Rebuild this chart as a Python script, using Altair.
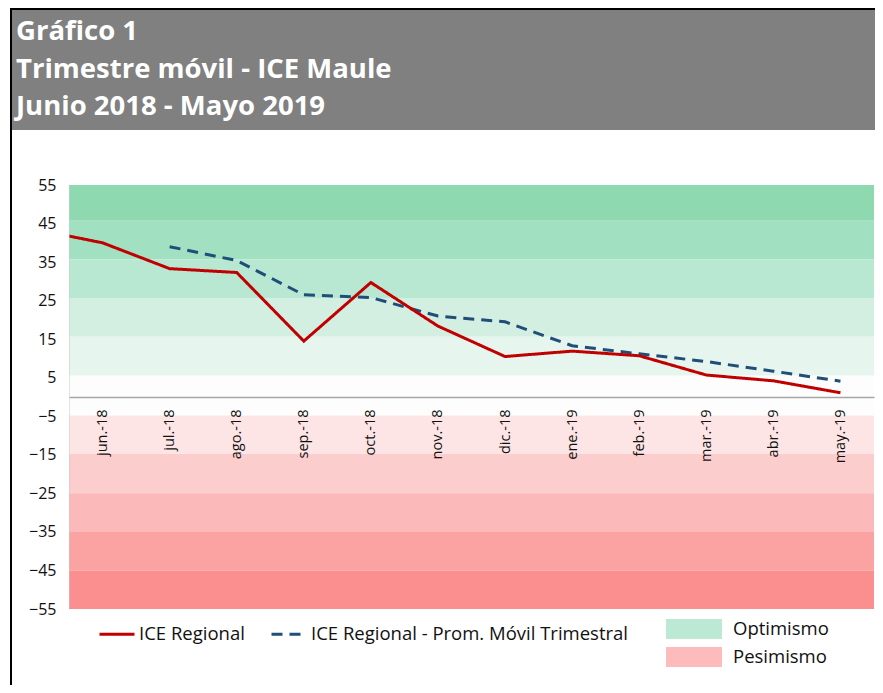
import altair as alt
import pandas as pd

# ---------------- data ----------------
months = ["jun.-18", "jul.-18", "ago.-18", "sep.-18", "oct.-18", "nov.-18",
          "dic.-18", "ene.-19", "feb.-19", "mar.-19", "abr.-19", "may.-19"]

# ICE Regional (index -1 = may.-18, only its segment entering the plot is visible)
ice_idx = [-1, 0, 1, 2, 3, 4, 5, 6, 7, 8, 9, 10, 11]
ice_regional = [43.5, 40.0, 33.3, 32.3, 14.5, 29.7, 18.4, 10.5, 11.9, 10.7, 5.7, 4.2, 1.1]

# ICE Regional - Prom. Móvil Trimestral (starts in jul.-18)
prom_idx = [1, 2, 3, 4, 5, 6, 7, 8, 9, 10, 11]
prom_movil = [39.0, 35.4, 26.5, 25.8, 21.0, 19.5, 13.3, 11.2, 9.2, 6.7, 4.1]

series_names = ["ICE Regional", "ICE Regional - Prom. Móvil Trimestral"]
series_colors = ["#C00000", "#1F4E79"]

# background bands (optimism / pessimism zones)
band_low = [45.7, 35.7, 25.7, 15.6, 5.5, -4.8, -14.8, -25.0, -35.0, -45.0, -55.0]
band_high = [55.0, 45.7, 35.7, 25.7, 15.6, 5.5, -4.8, -14.8, -25.0, -35.0, -45.0]
band_colors = ["#8FD9B1", "#A1E1C2", "#B8E8D1", "#D2EFE1", "#E6F6EE", "#FDFDFD",
               "#FDE5E5", "#FCCDCD", "#FBB9B9", "#FBA2A2", "#FB8E8E"]

zones = ["Optimismo", "Pesimismo"]
zone_colors = ["#BCE9D3", "#FDBBBB"]

title_lines = ["Gráfico 1", "Trimestre móvil - ICE Maule", "Junio 2018 - Mayo 2019"]
y_ticks = [55, 45, 35, 25, 15, 5, -5, -15, -25, -35, -45, -55]

# ---------------- tables ----------------
# moving average first so the regional line is drawn on top of it
df_lines = pd.concat([
    pd.DataFrame({"serie": series_names[1], "idx": prom_idx, "value": prom_movil}),
    pd.DataFrame({"serie": series_names[0], "idx": ice_idx, "value": ice_regional}),
], ignore_index=True)
df_bands = pd.DataFrame({"low": band_low, "high": band_high, "color": band_colors})
df_zones = pd.DataFrame({"zona": zones})

W, H = 805, 424
FONT = "Open Sans"
YFS, XFS = 16, 14.5

xscale = alt.Scale(domain=[-0.5, 11.5], nice=False, zero=False)
yscale = alt.Scale(domain=[-55, 55], nice=False, zero=False)

label_array = "[" + ",".join("'" + m + "'" for m in months) + "]"
xaxis = alt.Axis(values=list(range(12)), labelExpr=label_array + "[datum.value]",
                 labelAngle=270, labelAlign="right", labelBaseline="middle",
                 labelPadding=12, ticks=False, grid=False, domain=True,
                 domainColor="#A6A6A6", domainWidth=1.5, offset=-212, zindex=1,
                 labelFont=FONT, labelFontSize=XFS, labelColor="#111111",
                 title=None, labelOverlap=False, labelFlush=False)
yaxis = alt.Axis(values=y_ticks, domain=True, domainColor="#C8C8C8", domainDash=[1, 1],
                 domainWidth=1, ticks=False, grid=False, labelFont=FONT, zindex=1,
                 labelFontSize=YFS, labelColor="#111111", labelPadding=13,
                 title=None, labelFlush=False, labelOverlap=False)

line_legend = alt.Legend(orient="none", legendX=29, legendY=430, direction="horizontal",
                         title=None, symbolType="stroke", symbolSize=1225,
                         symbolStrokeWidth=3, labelFont=FONT, labelFontSize=18.5,
                         labelColor="#111111", labelOffset=3, columnPadding=20,
                         padding=0, labelLimit=600)

zone_legend = alt.Legend(orient="none", legendX=615, legendY=434, direction="vertical",
                         title=None, symbolType="M-2.8,-1H2.8V1H-2.8Z", symbolSize=400,
                         symbolStrokeWidth=0, symbolOpacity=1, labelFont=FONT,
                         labelFontSize=18.5, labelColor="#111111", labelOffset=29,
                         rowPadding=8, padding=0)

# ---------------- decoration (header block + frame) ----------------
header = alt.Chart(pd.DataFrame({"a": [0]})).mark_rect(color="#808080").encode(
    x=alt.value(-57), x2=alt.value(W + 2), y=alt.value(-175), y2=alt.value(-55))
frame_top = alt.Chart(pd.DataFrame({"a": [0]})).mark_rule(color="black", strokeWidth=2).encode(
    x=alt.value(-58), x2=alt.value(W + 2), y=alt.value(-176))
frame_left = alt.Chart(pd.DataFrame({"a": [0]})).mark_rule(color="black", strokeWidth=2).encode(
    x=alt.value(-58), y=alt.value(-177), y2=alt.value(H + 80))
title = alt.Chart(pd.DataFrame({"a": [0]})).mark_text(
    font=FONT, fontWeight="bold", fontSize=27.5, color="white", align="left",
    baseline="alphabetic", lineBreak="\n", lineHeight=37.5).encode(
    x=alt.value(-53), y=alt.value(-145), text=alt.value("\n".join(title_lines)))

# ---------------- chart layers ----------------
bands = alt.Chart(df_bands).mark_rect().encode(
    x=alt.XDatum(-0.5, type="quantitative", scale=xscale, axis=xaxis),
    x2=alt.X2Datum(11.5),
    y=alt.Y("low:Q", scale=yscale, axis=yaxis),
    y2="high:Q",
    fill=alt.Fill("color:N", scale=None),
)

zone_dummy = alt.Chart(df_zones).mark_rect().encode(
    x=alt.XDatum(-0.5, type="quantitative", scale=xscale, axis=xaxis),
    x2=alt.X2Datum(-0.5),
    y=alt.YDatum(0, type="quantitative", scale=yscale, axis=yaxis),
    y2=alt.Y2Datum(0),
    fill=alt.Fill("zona:N", scale=alt.Scale(domain=zones, range=zone_colors),
                  legend=zone_legend),
)

lines = alt.Chart(df_lines).mark_line(clip=True, strokeWidth=3).encode(
    x=alt.X("idx:Q", scale=xscale, axis=xaxis),
    y=alt.Y("value:Q", scale=yscale, axis=yaxis),
    stroke=alt.Stroke("serie:N", scale=alt.Scale(domain=series_names, range=series_colors),
                      legend=line_legend),
    strokeDash=alt.StrokeDash("serie:N",
                              scale=alt.Scale(domain=series_names, range=[[1, 0], [11, 7]]),
                              legend=line_legend),
    order=alt.Order("idx:Q"),
)

chart = alt.layer(header, frame_top, frame_left, title, bands, zone_dummy, lines).resolve_scale(
    fill="independent"
).properties(
    width=W, height=H,
    autosize=alt.AutoSizeParams(type="none"),
    padding={"left": 61, "top": 177, "right": 1, "bottom": 76},
    background="white",
).configure_view(strokeWidth=0).configure_axis(
    labelFont=FONT, labelColor="#111111"
).configure_axisY(labelFontSize=YFS).configure_axisX(labelFontSize=XFS)

chart.save("out.html", embed_options={"renderer": "svg", "actions": False})
